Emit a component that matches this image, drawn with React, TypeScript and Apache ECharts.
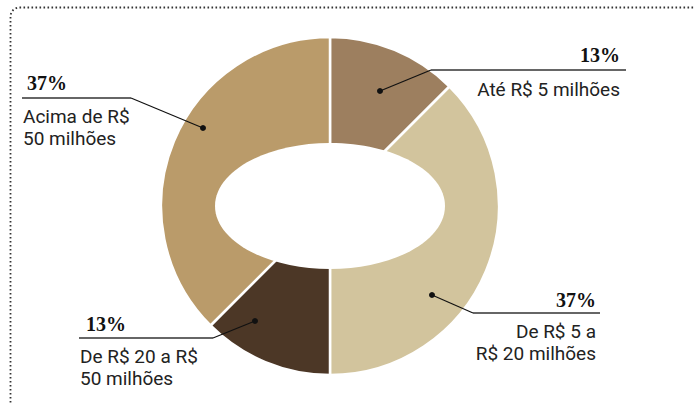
import React, { useEffect, useRef } from "react";
import * as echarts from "echarts";

const categories = ["Até R$ 5 milhões", "De R$ 5 a R$ 20 milhões", "De R$ 20 a R$ 50 milhões", "Acima de R$ 50 milhões"];
const sliceValues = [12.5, 37.5, 12.5, 37.5];
const percentLabels = ["13%", "37%", "13%", "37%"];
const labelLines = [["Até R$ 5 milhões"], ["De R$ 5 a", "R$ 20 milhões"], ["De R$ 20 a R$", "50 milhões"], ["Acima de R$", "50 milhões"]];
const sliceColors = ["#9d7f5f", "#d2c49d", "#4c3726", "#ba9b6a"];

const CX = 330;
const CY = 206;
const R = 169;

// annotation layout: [pctX, pctY, align, underlineX1, underlineX2, underlineY, dotX, dotY, textX, textY0]
const annot: [number, number, "left" | "right", number, number, number, number, number, number, number][] = [
  [620, 55, "right", 431, 626, 70, 380, 91, 620, 89],
  [596, 300, "right", 473, 600, 313, 432, 295, 596, 331],
  [86, 324, "left", 79, 213, 338, 255, 321, 80, 356],
  [27, 83, "left", 22, 131, 98, 203, 128, 23, 116],
];

export default function App() {
  const ref = useRef<HTMLDivElement>(null);
  useEffect(() => {
    if (!ref.current) return;
    const chart = echarts.init(ref.current, null, { renderer: "svg" });
    const graphics: any[] = [
      {
        type: "rect",
        shape: { x: 10.5, y: 7.5, width: 900, height: 600, r: [9, 0, 0, 0] },
        style: { fill: "none", stroke: "#333", lineWidth: 1.8, lineDash: [1.6, 2.4], lineCap: "butt" },
        z: 1,
      },
      {
        type: "ellipse",
        shape: { cx: CX, cy: CY, rx: 115, ry: 63 },
        style: { fill: "#ffffff" },
        z: 100,
      },
    ];
    annot.forEach((a, i) => {
      const [px, py, align, ux1, ux2, uy, dx, dy, tx, ty] = a;
      const elbowX = align === "right" ? ux1 : ux2;
      graphics.push({
        type: "text",
        z: 110,
        style: { x: px, y: py, text: percentLabels[i], font: "bold 20px 'Liberation Serif'", fill: "#111", align, verticalAlign: "middle" },
      });
      graphics.push({
        type: "line",
        z: 110,
        shape: { x1: ux1, y1: uy, x2: ux2, y2: uy },
        style: { stroke: "#333", lineWidth: 1.5 },
      });
      graphics.push({
        type: "line",
        z: 110,
        shape: { x1: elbowX, y1: uy, x2: dx, y2: dy },
        style: { stroke: "#111", lineWidth: 1.2 },
      });
      graphics.push({
        type: "circle",
        z: 110,
        shape: { cx: dx, cy: dy, r: 3 },
        style: { fill: "#111" },
      });
      labelLines[i].forEach((t, j) => {
        graphics.push({
          type: "text",
          z: 110,
          style: { x: tx, y: ty + j * 22, text: t, font: "19px Roboto", fill: "#222", align, verticalAlign: "middle" },
        });
      });
    });
    chart.setOption({
      animation: false,
      backgroundColor: "#ffffff",
      series: [
        {
          type: "pie",
          center: [CX, CY],
          radius: [0, R],
          startAngle: 90,
          clockwise: true,
          label: { show: false },
          labelLine: { show: false },
          emphasis: { disabled: true },
          itemStyle: { borderColor: "#ffffff", borderWidth: 2.5 },
          data: categories.map((c, i) => ({ name: c, value: sliceValues[i], itemStyle: { color: sliceColors[i] } })),
        },
      ],
      graphic: graphics,
    });
    return () => chart.dispose();
  }, []);
  return <div ref={ref} style={{ position: "fixed", left: 0, top: 0, width: 694, height: 403 }} />;
}
